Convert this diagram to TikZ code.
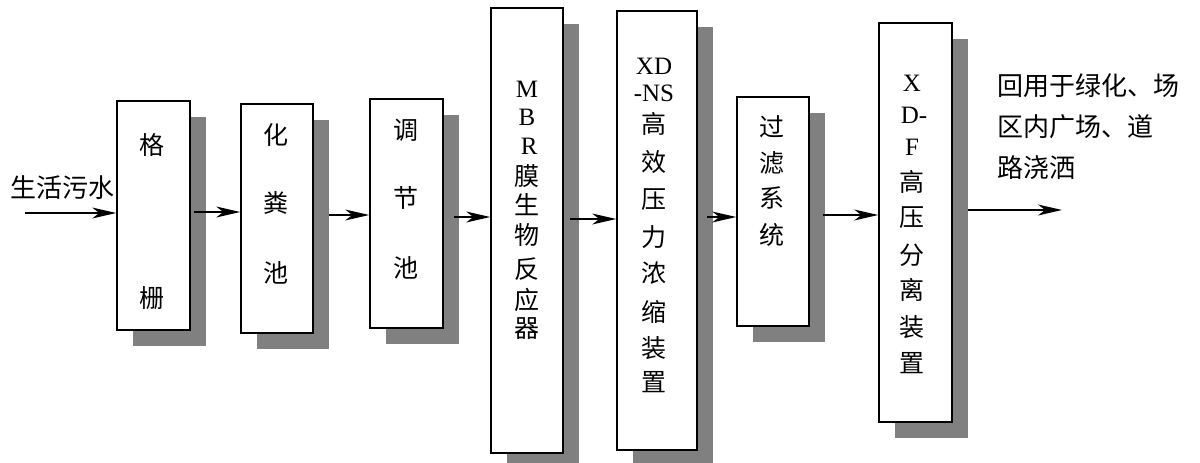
\documentclass[tikz,border=0pt]{standalone}
\usepackage{fontspec}
\setmainfont{Liberation Serif}
\newfontfamily\cjk{Noto Sans CJK SC}
\usetikzlibrary{calc}
\definecolor{shadowgray}{HTML}{808080}
\tikzset{
  box/.style={draw,line width=1.6pt,fill=white,inner sep=0pt},
  arr/.style={draw=black,line width=1.8pt,shorten >=12pt},
  pics/dart/.style={code={\fill[black] (0,0) -- (-24,5.5) -- (-17,0) -- (-24,-5.5) -- cycle;}},
  txt/.style={font=\fontsize{25}{30}\selectfont,inner sep=0pt},
  lbl/.style={font=\cjk\fontsize{26}{41}\selectfont,inner sep=0pt,align=left,anchor=north west}}
% name, left, top, right, bottom (pixel coordinates, y downwards)
\newcommand\stagebox[5]{%
  \fill[shadowgray] (#2+16,-#3-16) rectangle (#4+16,-#5-16);
  \node[box,minimum width=#4-#2,minimum height=#5-#3] (#1) at ({(#2+#4)/2},{-(#3+#5)/2}) {};
}
\begin{document}
\begin{tikzpicture}[x=1pt,y=1pt]
\useasboundingbox (0,0) rectangle (1200,-463);

\stagebox{b1}{117}{101}{190}{330}
\stagebox{b2}{241}{104}{313}{333}
\stagebox{b3}{370}{99}{443}{328}
\stagebox{b4}{491}{8}{563}{453}
\stagebox{b5}{617}{11}{697}{450}
\stagebox{b6}{737}{97}{809}{326}
\stagebox{b7}{879}{23}{952}{422}

% box texts
\foreach \y/\t [count=\i] in {145/格,298/栅}
  \node[txt] (t1-\i) at (152,-\y) {\cjk\t};
\foreach \y/\t [count=\i] in {135/化,203/粪,273/池}
  \node[txt] (t2-\i) at (276,-\y) {\cjk\t};
\foreach \y/\t [count=\i] in {130/调,198/节,268/池}
  \node[txt] (t3-\i) at (406,-\y) {\cjk\t};
\foreach \y/\t [count=\i] in {89/M,117/B,146/{\,R},176/{\cjk 膜},205/{\cjk 生},235/{\cjk 物},269/{\cjk 反},300/{\cjk 应},329/{\cjk 器}}
  \node[txt] (t4-\i) at (527,-\y) {\t};
\foreach \y/\t [count=\i] in {66/XD,93/-NS,124/{\cjk 高},162/{\cjk 效},200/{\cjk 压},237/{\cjk 力},273/{\cjk 浓},312/{\cjk 缩},348/{\cjk 装},382/{\cjk 置}}
  \node[txt] (t5-\i) at (654,-\y) {\t};
\foreach \y/\t [count=\i] in {127/过,163/滤,198/系,235/统}
  \node[txt] (t6-\i) at (772,-\y) {\cjk\t};
\foreach \y/\t [count=\i] in {83/X,115/{\,D-},147/F,182/{\cjk 高},218/{\cjk 压},255/{\cjk 分},290/{\cjk 离},327/{\cjk 装},363/{\cjk 置}}
  \node[txt] (t7-\i) at (912,-\y) {\t};

% labels
\node[txt,font=\cjk\fontsize{26}{30}\selectfont] (inlbl) at (62,-188) {生活污水};
\node[lbl] (outlbl) at (997,-73) {回用于绿化、场\\区内广场、道\\路浇洒};

% connectors
\coordinate (c0) at (25,-213);
\coordinate (c1) at (194,-212);
\coordinate (c2) at (329,-215);
\coordinate (c3) at (454,-217);
\coordinate (c4) at (570,-219);
\coordinate (c5) at (707,-217);
\coordinate (c6) at (823,-215);
\coordinate (c7) at (968,-210);
\coordinate (cend) at (1062,-210);
\draw[arr] (c0) -- (c0 -| b1.west) pic {dart};
\draw[arr] (c1) -- (c1 -| b2.west) pic {dart};
\draw[arr] (c2) -- (c2 -| b3.west) pic {dart};
\draw[arr] (c3) -- (c3 -| b4.west) pic {dart};
\draw[arr] (c4) -- (c4 -| b5.west) pic {dart};
\draw[arr] (c5) -- (c5 -| b6.west) pic {dart};
\draw[arr] (c6) -- (c6 -| b7.west) pic {dart};
\draw[arr] (c7) -- (cend) pic {dart};
\end{tikzpicture}
\end{document}
